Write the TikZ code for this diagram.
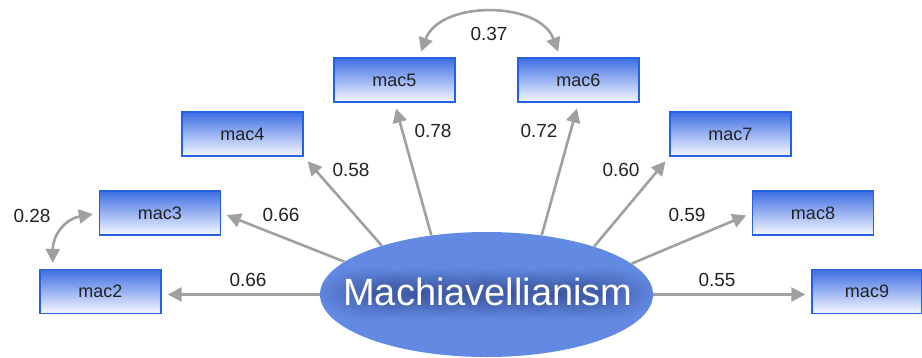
\documentclass[tikz,border=0pt]{standalone}
\usepackage{fontspec}
\setmainfont{Liberation Sans}
\usetikzlibrary{arrows.meta,shapes.geometric,calc,fadings}
\definecolor{boxtop}{RGB}{62,110,228}
\definecolor{boxbot}{RGB}{246,248,255}
\definecolor{boxedge}{RGB}{36,98,226}
\definecolor{latentfill}{RGB}{98,138,226}
\definecolor{linkgray}{RGB}{160,160,160}
\definecolor{inkdark}{RGB}{34,34,34}
\definecolor{glowdark}{RGB}{28,40,105}
\tikzfading[name=softhalo, inner color=transparent!0, outer color=transparent!100]
\begin{document}
\begin{tikzpicture}[x=1pt,y=-1pt,
  indicator/.style={rectangle, minimum width=121pt, minimum height=44pt, inner sep=0pt,
    top color=boxtop, bottom color=boxbot, draw=boxedge, line width=1.4pt,
    text=inkdark, font=\fontsize{18}{20}\selectfont},
  loading/.style={draw=linkgray, line width=2.6pt,
    -{Triangle[length=14pt,width=14pt]}, shorten >=6pt},
  covar/.style={draw=linkgray, line width=2.6pt,
    {Triangle[length=14pt,width=14pt]}-{Triangle[length=14pt,width=14pt]},
    shorten >=6pt, shorten <=6pt},
  coef/.style={text=inkdark, font=\fontsize{19}{21}\selectfont, inner sep=0pt},
  latentlabel/.style={font=\fontsize{38}{40}\selectfont, anchor=base, inner sep=0pt},
]
\useasboundingbox (0,0) rectangle (922,357);

% latent factor, with a soft dark halo along its name
\node[ellipse, fill=latentfill, minimum width=333pt, minimum height=125pt, inner sep=0pt] (M) at (486.5,294.5) {};
\foreach \hx in {372,418,464,510,556,602}{
  \fill[glowdark, opacity=0.45, path fading=softhalo] (\hx-55,266) rectangle (\hx+55,320);
}
\node[latentlabel, text=white] (latentname) at (488,305) {Machiavellianism};

% observed indicators
\node[indicator] (mac2) at (100.5,291.5) {mac2};
\node[indicator] (mac3) at (160,213) {mac3};
\node[indicator] (mac4) at (242.5,134) {mac4};
\node[indicator] (mac5) at (394.5,80) {mac5};
\node[indicator] (mac6) at (578.5,80) {mac6};
\node[indicator] (mac7) at (730.5,134) {mac7};
\node[indicator] (mac8) at (813,213) {mac8};
\node[indicator, minimum width=110pt] (mac9) at (867,291.5) {mac9};

% factor loadings
\draw[loading] (M.west) -- (M.west -| mac2.east);
\draw[loading] (M.167.2) -- (mac3.east);
\draw[loading] (M.155.1) -- (mac4.south east);
\draw[loading] (M.133) -- (mac5.south);
\draw[loading] (M.47) -- (mac6.south);
\draw[loading] (M.24.9) -- (mac7.south west);
\draw[loading] (M.12.8) -- (mac8.west);
\draw[loading] (M.east) -- (M.east -| mac9.west);

% residual covariances
\draw[covar] ($(mac5.north)!0.4!(mac5.north east)$) to[out=70,in=110,looseness=1.1] ($(mac6.north)!0.3!(mac6.north west)$);
\draw[covar] (mac3.west) to[out=190,in=90,looseness=1.2] ($(mac2.north west)!0.22!(mac2.north)$);

% coefficients
\node[coef] (c2) at (248,280) {0.66};
\node[coef] (c3) at (281,215) {0.66};
\node[coef] (c4) at (351,170) {0.58};
\node[coef] (c5) at (433,131) {0.78};
\node[coef] (c6) at (539,131) {0.72};
\node[coef] (c7) at (621,170) {0.60};
\node[coef] (c8) at (687,215) {0.59};
\node[coef] (c9) at (717,280) {0.55};
\node[coef] (c56) at (489,34) {0.37};
\node[coef] (c23) at (32,216) {0.28};
\end{tikzpicture}
\end{document}
